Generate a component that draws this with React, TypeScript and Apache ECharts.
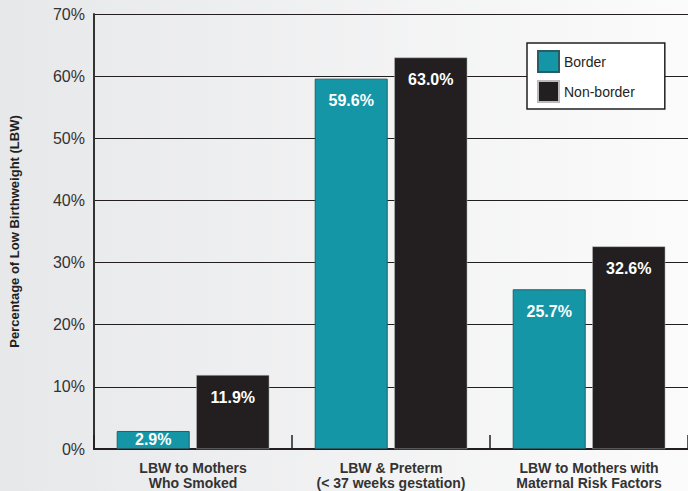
import React, { useEffect, useRef } from "react";
import * as echarts from "echarts";

const categories = [
  "LBW to Mothers\nWho Smoked",
  "LBW & Preterm\n(< 37 weeks gestation)",
  "LBW to Mothers with\nMaternal Risk Factors",
];
const borderValues = [2.9, 59.6, 25.7];
const nonBorderValues = [11.9, 63.0, 32.6];
const yTicks = [0, 10, 20, 30, 40, 50, 60, 70];

const TEAL = "#1496a6";
const DARK = "#231f20";

export default function App() {
  const ref = useRef<HTMLDivElement>(null);
  useEffect(() => {
    document.body.style.margin = "0";
    if (!ref.current) return;
    const chart = echarts.init(ref.current, undefined, { renderer: "svg" });
    const labelBase = {
      show: true,
      position: "insideTop" as const,
      distance: 14,
      color: "#ffffff",
      fontWeight: "bold" as const,
      fontSize: 16,
      fontFamily: "Liberation Sans, Arial, sans-serif",
      formatter: (p: any) => p.value.toFixed(1) + "%",
    };
    const mk = (vals: number[]) =>
      vals.map((v) =>
        v < 5
          ? { value: v, label: { position: "inside" as const, distance: 0 } }
          : { value: v }
      );
    chart.setOption({
      animation: false,
      backgroundColor: new echarts.graphic.LinearGradient(0, 0, 1, 0, [
        { offset: 0, color: "#e7e8ea" },
        { offset: 1, color: "#fbfbfb" },
      ]),
      textStyle: { fontFamily: "Liberation Sans, Arial, sans-serif" },
      grid: { left: 89, top: 14, width: 602, height: 435, containLabel: false },
      legend: {
        data: ["Border", "Non-border"],
        orient: "vertical",
        left: 527,
        top: 43,
        width: 125,
        padding: [7, 30, 6, 10],
        itemWidth: 21,
        itemHeight: 21,
        itemGap: 7,
        backgroundColor: "#ffffff",
        borderColor: "#231f20",
        borderWidth: 1.5,
        borderRadius: 0,
        icon: "rect",
        textStyle: { fontSize: 14, color: "#231f20", padding: [0, 0, 0, 0] },
      },
      xAxis: {
        type: "category",
        data: categories,
        axisLine: { show: true, lineStyle: { color: "#231f20", width: 2 } },
        axisTick: { show: true, length: -14, lineStyle: { color: "#231f20", width: 1.5 } },
        axisLabel: {
          fontSize: 14,
          fontWeight: "bold",
          color: "#333333",
          lineHeight: 15,
          margin: 11,
        },
      },
      yAxis: {
        type: "value",
        min: 0,
        max: 70,
        interval: 10,
        name: "Percentage of Low Birthweight (LBW)",
        nameLocation: "middle",
        nameGap: 73,
        nameTextStyle: { fontSize: 13, fontWeight: "bold", color: "#231f20" },
        axisLine: { show: true, lineStyle: { color: "#333333", width: 2 } },
        axisTick: { show: false },
        splitLine: { show: true, lineStyle: { color: "#231f20", width: 1 } },
        axisLabel: {
          fontSize: 16,
          color: "#333333",
          margin: 9,
          formatter: (v: number) => (yTicks.includes(v) ? v + "%" : ""),
        },
      },
      series: [
        {
          name: "Border",
          type: "bar",
          data: mk(borderValues),
          barWidth: 73,
          barGap: "9%",
          itemStyle: { color: TEAL, borderColor: "#2b5c63", borderWidth: 1 },
          label: labelBase,
        },
        {
          name: "Non-border",
          type: "bar",
          data: mk(nonBorderValues),
          barWidth: 73,
          itemStyle: { color: DARK, borderColor: "#bbbbbb", borderWidth: 0.5 },
          label: labelBase,
        },
      ],
    });
    return () => chart.dispose();
  }, []);
  return <div ref={ref} style={{ width: 688, height: 491 }} />;
}
